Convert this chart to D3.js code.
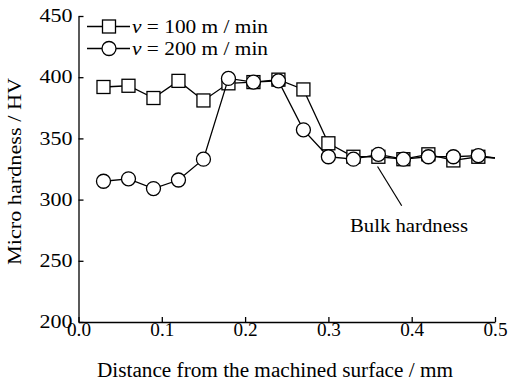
<!DOCTYPE html>
<html>
<head>
<meta charset="utf-8">
<script src="https://cdn.jsdelivr.net/npm/d3@7"></script>
<style>
  body { margin: 0; background: #fff; }
  text { font-family: "Liberation Serif", "Times New Roman", serif; fill: #000; }
</style>
</head>
<body>
<div id="chart"></div>
<script>
// distance from surface (mm)
var depth = [0.03, 0.06, 0.09, 0.12, 0.15, 0.18, 0.21, 0.24, 0.27, 0.30, 0.33, 0.36, 0.39, 0.42, 0.45, 0.48];
// hardness, v = 100 m/min
var hv100 = [392, 393, 383, 397, 381, 395, 396, 398, 390, 346, 335, 335, 333, 337, 332, 335];
// hardness, v = 200 m/min
var hv200 = [315, 317, 309, 316, 333, 399, 396, 397, 357, 335, 333, 337, 333, 335, 335, 336];
// line runs on to the axis end
var tail = [0.5, 334];

var xTicks = [0, 0.1, 0.2, 0.3, 0.4, 0.5];
var yTicks = [200, 250, 300, 350, 400, 450];

var w = 509, h = 383;
var m = {left: 78.5, right: 14, top: 16, bottom: 61};

var svg = d3.select("#chart").append("svg").attr("width", w).attr("height", h);

var x = d3.scaleLinear().domain([0, 0.5]).range([m.left, w - m.right]);
var y = d3.scaleLinear().domain([200, 450]).range([h - m.bottom, m.top]);

// the original type is set wide, so stretch text to its measured length
function stretch(sel, len) {
    sel.attr("textLength", len).attr("lengthAdjust", "spacingAndGlyphs");
}

// axes, ticks pointing inwards
var xAxis = svg.append("g")
    .attr("transform", "translate(0," + y(200) + ")")
    .call(d3.axisBottom(x).tickValues(xTicks).tickFormat(d3.format(".1f")).tickSizeInner(-5).tickSizeOuter(0).tickPadding(1));
xAxis.selectAll("text").style("font-size", "18px").attr("dy", "0.71em").call(stretch, 24);

var yAxis = svg.append("g")
    .attr("transform", "translate(" + x(0) + ",0)")
    .call(d3.axisLeft(y).tickValues(yTicks).tickSizeInner(-5).tickSizeOuter(0).tickPadding(6));
yAxis.selectAll("text").style("font-size", "18px").call(stretch, 33);
svg.selectAll(".domain, .tick line").attr("stroke", "#000").attr("stroke-width", 1.3);
svg.selectAll(".tick text").attr("font-family", null);

svg.append("text")
    .attr("x", 275)
    .attr("y", 377)
    .attr("text-anchor", "middle")
    .style("font-size", "20px")
    .text("Distance from the machined surface / mm")
    .call(stretch, 356);

svg.append("text")
    .attr("transform", "translate(21,171.5) rotate(-90)")
    .attr("text-anchor", "middle")
    .style("font-size", "18px")
    .text("Micro hardness / HV")
    .call(stretch, 187);

var line = d3.line().x(d => x(d[0])).y(d => y(d[1]));

function series(vals, shape) {
    var pts = depth.map((d, i) => [d, vals[i]]);
    svg.append("path")
        .datum(pts.concat([tail]))
        .attr("d", line)
        .attr("fill", "none")
        .attr("stroke", "#000")
        .attr("stroke-width", 1.3);
    var g = svg.append("g");
    if (shape === "square") {
        g.selectAll("rect").data(pts).enter().append("rect")
            .attr("x", d => x(d[0]) - 6.5)
            .attr("y", d => y(d[1]) - 6.5)
            .attr("width", 13).attr("height", 13)
            .attr("fill", "#fff").attr("stroke", "#000").attr("stroke-width", 1.3);
    } else {
        g.selectAll("circle").data(pts).enter().append("circle")
            .attr("cx", d => x(d[0]))
            .attr("cy", d => y(d[1]))
            .attr("r", 7)
            .attr("fill", "#fff").attr("stroke", "#000").attr("stroke-width", 1.3);
    }
}
series(hv100, "square");
series(hv200, "circle");

// annotation
svg.append("line")
    .attr("x1", x(0.359)).attr("y1", y(327))
    .attr("x2", x(0.388)).attr("y2", y(295))
    .attr("stroke", "#000").attr("stroke-width", 1.2);
svg.append("text")
    .attr("x", 350).attr("y", 232)
    .style("font-size", "18px")
    .text("Bulk hardness")
    .call(stretch, 118);

// legend
var legend = [{label: " = 100 m / min", shape: "square"}, {label: " = 200 m / min", shape: "circle"}];
legend.forEach(function (l, i) {
    var ly = 26.5 + i * 22;
    svg.append("line").attr("x1", 87).attr("x2", 130).attr("y1", ly).attr("y2", ly)
        .attr("stroke", "#000").attr("stroke-width", 1.3);
    if (l.shape === "square") {
        svg.append("rect").attr("x", 109 - 6.5).attr("y", ly - 6.5).attr("width", 13).attr("height", 13)
            .attr("fill", "#fff").attr("stroke", "#000").attr("stroke-width", 1.3);
    } else {
        svg.append("circle").attr("cx", 109).attr("cy", ly).attr("r", 7)
            .attr("fill", "#fff").attr("stroke", "#000").attr("stroke-width", 1.3);
    }
    var t = svg.append("text").attr("x", 132).attr("y", ly + 6.5).style("font-size", "18px");
    t.append("tspan").style("font-style", "italic").text("v");
    t.append("tspan").text(l.label);
    stretch(t, 136);
});
</script>
</body>
</html>
